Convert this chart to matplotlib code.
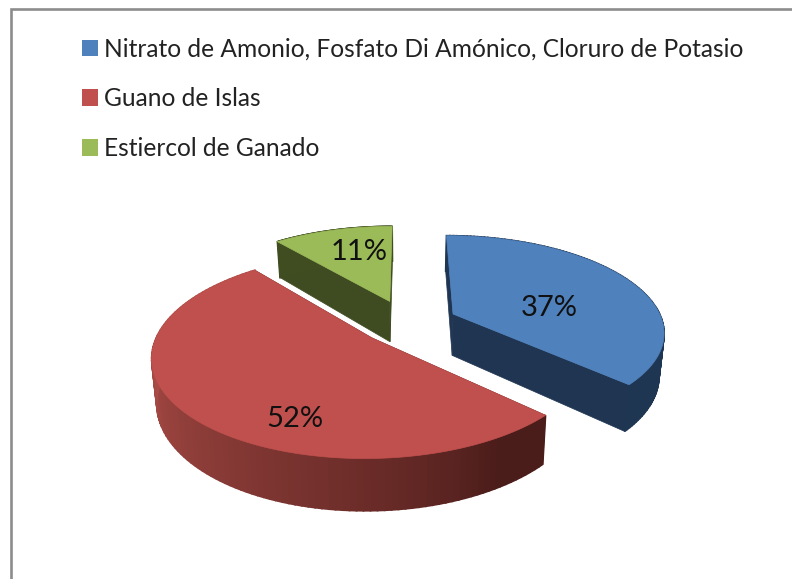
import numpy as np
import matplotlib
matplotlib.use("Agg")
import matplotlib.pyplot as plt
from matplotlib.patches import Patch, Polygon

labels = ["Nitrato de Amonio, Fosfato Di Amónico, Cloruro de Potasio",
          "Guano de Islas", "Estiercol de Ganado"]
values = [37, 52, 11]
pct_labels = ["37%", "52%", "11%"]
colors = ["#4F81BD", "#C0504D", "#9BBB59"]
cut_colors = ["#1F3552", "#4F1E1C", "#3F4C21"]
wall_dark = [(0.12, 0.21, 0.32), (0.29, 0.11, 0.10), (0.25, 0.30, 0.13)]
wall_light = [(0.12, 0.21, 0.32), (0.66, 0.29, 0.27), (0.25, 0.30, 0.13)]
explode = [51, 47, 53]
label_xy = [(549, 308), (295, 419), (359, 252)]

W, H = 792, 579
plt.rcParams["font.family"] = ["Lato", "DejaVu Sans"]
fig = plt.figure(figsize=(W / 100, H / 100), dpi=100, facecolor="white")
ax = fig.add_axes([0, 0, 1, 1])
ax.set_xlim(0, W)
ax.set_ylim(H, 0)
ax.axis("off")

# Projection of the pie plane
CX, CY, R, K, A, DEPTH, TAPER = 407, 323, 210, 0.45, 0.17, 42, 0.02


def project(u, v, z=0.0):
    s = 1 / (1 + A * np.asarray(v) / R)
    return CX + np.asarray(u) * s * (1 - TAPER * z), CY - K * np.asarray(v) * s + DEPTH * s * z


fracs = np.array(values) / sum(values) * 2 * np.pi
ends = np.cumsum(fracs)
starts = ends - fracs
order = [2, 0, 1]  # back to front
for i in order:
    a0, a1 = starts[i], ends[i]
    mid = (a0 + a1) / 2
    ou, ov = explode[i] * np.sin(mid), explode[i] * np.cos(mid)
    th = np.linspace(a0, a1, 120)
    u, v = ou + R * np.sin(th), ov + R * np.cos(th)

    # cut faces
    for a in (a0, a1):
        eu, ev = ou + R * np.sin(a), ov + R * np.cos(a)
        pts = [project(ou, ov, 0), project(eu, ev, 0), project(eu, ev, 1), project(ou, ov, 1)]
        ax.add_patch(Polygon(pts, closed=True, fc=cut_colors[i], ec=cut_colors[i], lw=0.5, zorder=i))
    # outer wall strips, shaded along the sweep
    for j in range(len(th) - 1):
        t = np.clip((th[j] - np.radians(148)) / np.radians(115), 0, 1) ** 0.8
        c = tuple(np.array(wall_dark[i]) * (1 - t) + np.array(wall_light[i]) * t)
        pts = [project(u[j], v[j], 0), project(u[j + 1], v[j + 1], 0),
               project(u[j + 1], v[j + 1], 1), project(u[j], v[j], 1)]
        ax.add_patch(Polygon(pts, closed=True, fc=c, ec=c, lw=1.2, zorder=i))
    # top surface
    x, y = project(np.r_[ou, u], np.r_[ov, v])
    ax.add_patch(Polygon(np.c_[x, y], closed=True, fc=colors[i], ec=colors[i], lw=0.5, zorder=i + 0.5))
    # percentage label
    ax.text(*label_xy[i], pct_labels[i], ha="center", va="center", fontsize=21, color="#111111", zorder=10)

# chart frame
ax.plot([10.5, 10.5, W], [H, 8.5, 8.5], color="#8C8C8C", lw=1.9, solid_joinstyle="miter", zorder=0)

handles = [Patch(fc=c, ec="none") for c in colors]
ax.legend(handles, labels, loc="upper left", bbox_to_anchor=(82 / W, 1 - 37.5 / H),
          frameon=False, fontsize=17.66, handlelength=0.655, handleheight=0.655,
          handletextpad=0.26, labelspacing=1.09, borderpad=0, borderaxespad=0,
          labelcolor="#222222")

fig.savefig("out.png", dpi=100, facecolor="white")
